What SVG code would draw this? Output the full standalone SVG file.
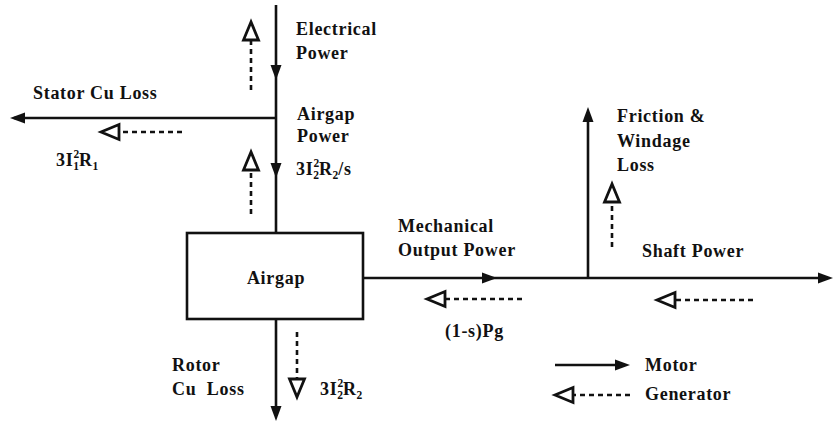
<svg xmlns="http://www.w3.org/2000/svg" width="834" height="424" viewBox="0 0 834 424">
<style>
text{font-family:"Liberation Serif","Times New Roman",serif;font-weight:bold;font-size:18px;letter-spacing:0.7px;fill:#111}
.s{font-size:11.5px;letter-spacing:0}
.ln{stroke:#111;stroke-width:2.6;fill:none}
.ds{stroke:#111;stroke-width:2.6;fill:none;stroke-dasharray:5 4}
.ah{fill:#111}
.oh{fill:#fff;stroke:#111;stroke-width:2.8;stroke-linejoin:miter}
</style>
<defs>
<path id="solid" class="ah" d="M0,0 L-15,-5.5 L-15,5.5 Z"/>
<path id="open" class="oh" d="M0,0 L-18,-7.5 L-18,7.5 Z"/>
</defs>
<rect width="834" height="424" fill="#fff"/>

<g id="connectors">
<!-- motor flow -->
<line class="ln" x1="276" y1="5" x2="276" y2="233"/>
<use href="#solid" transform="translate(276,80) rotate(90)"/>
<use href="#solid" transform="translate(276,178) rotate(90)"/>
<line class="ln" x1="276" y1="118" x2="14" y2="118"/>
<use href="#solid" transform="translate(10,118) rotate(180)"/>
<line class="ln" x1="276" y1="319" x2="276" y2="416"/>
<use href="#solid" transform="translate(276,421) rotate(90)"/>
<line class="ln" x1="363" y1="278" x2="828" y2="278"/>
<use href="#solid" transform="translate(497,278)"/>
<use href="#solid" transform="translate(833,278)"/>
<line class="ln" x1="588" y1="278" x2="588" y2="112"/>
<use href="#solid" transform="translate(588,107) rotate(-90)"/>
<!-- generator flow -->
<line class="ds" x1="251" y1="90" x2="251" y2="41"/>
<use href="#open" transform="translate(251,22) rotate(-90)"/>
<line class="ds" x1="251" y1="214" x2="251" y2="171"/>
<use href="#open" transform="translate(251,152) rotate(-90)"/>
<line class="ds" x1="182" y1="132" x2="120" y2="132"/>
<use href="#open" transform="translate(101,132) rotate(180)"/>
<line class="ds" x1="297" y1="332" x2="297" y2="378"/>
<use href="#open" transform="translate(297,397) rotate(90)"/>
<line class="ds" x1="522" y1="299" x2="446" y2="299"/>
<use href="#open" transform="translate(427,299) rotate(180)"/>
<line class="ds" x1="612" y1="247" x2="612" y2="203"/>
<use href="#open" transform="translate(612,184) rotate(-90)"/>
<line class="ds" x1="753" y1="300" x2="676" y2="300"/>
<use href="#open" transform="translate(657,300) rotate(180)"/>
</g>

<g id="airgap-box">
<rect x="187" y="233" width="176" height="86" fill="#fff" stroke="#111" stroke-width="2.6"/>
<text x="276" y="284" text-anchor="middle">Airgap</text>
</g>

<g id="electrical-power">
<text x="296" y="35">Electrical</text>
<text x="296" y="59">Power</text>
</g>

<g id="airgap-power">
<text x="297" y="120">Airgap</text>
<text x="297" y="142">Power</text>
<text x="296" y="175">3I<tspan class="s" dy="-8">2</tspan><tspan class="s" dx="-6" dy="12">2</tspan><tspan dy="-4">R</tspan><tspan class="s" dy="4">2</tspan><tspan dy="-4">/s</tspan></text>
</g>

<g id="stator-loss">
<text x="33" y="99">Stator Cu Loss</text>
<text x="56" y="166">3I<tspan class="s" dy="-8">2</tspan><tspan class="s" dx="-6" dy="12">1</tspan><tspan dy="-4">R</tspan><tspan class="s" dy="4">1</tspan></text>
</g>

<g id="rotor-loss">
<text x="172" y="371">Rotor</text>
<text x="172" y="395" xml:space="preserve">Cu  Loss</text>
<text x="320" y="395">3I<tspan class="s" dy="-8">2</tspan><tspan class="s" dx="-6" dy="12">2</tspan><tspan dy="-4">R</tspan><tspan class="s" dy="4">2</tspan></text>
</g>

<g id="mechanical-power">
<text x="398" y="232">Mechanical</text>
<text x="398" y="256">Output Power</text>
<text x="445" y="337">(1-s)Pg</text>
</g>

<g id="friction-loss">
<text x="617" y="122">Friction &amp;</text>
<text x="617" y="147">Windage</text>
<text x="617" y="171">Loss</text>
</g>

<g id="shaft-power">
<text x="642" y="257">Shaft Power</text>
</g>

<g id="legend">
<line class="ln" x1="555" y1="365" x2="620" y2="365"/>
<use href="#solid" transform="translate(630,365)"/>
<text x="645" y="371">Motor</text>
<line class="ds" x1="630" y1="395" x2="573" y2="395"/>
<use href="#open" transform="translate(555,395) rotate(180)"/>
<text x="645" y="400">Generator</text>
</g>
</svg>
